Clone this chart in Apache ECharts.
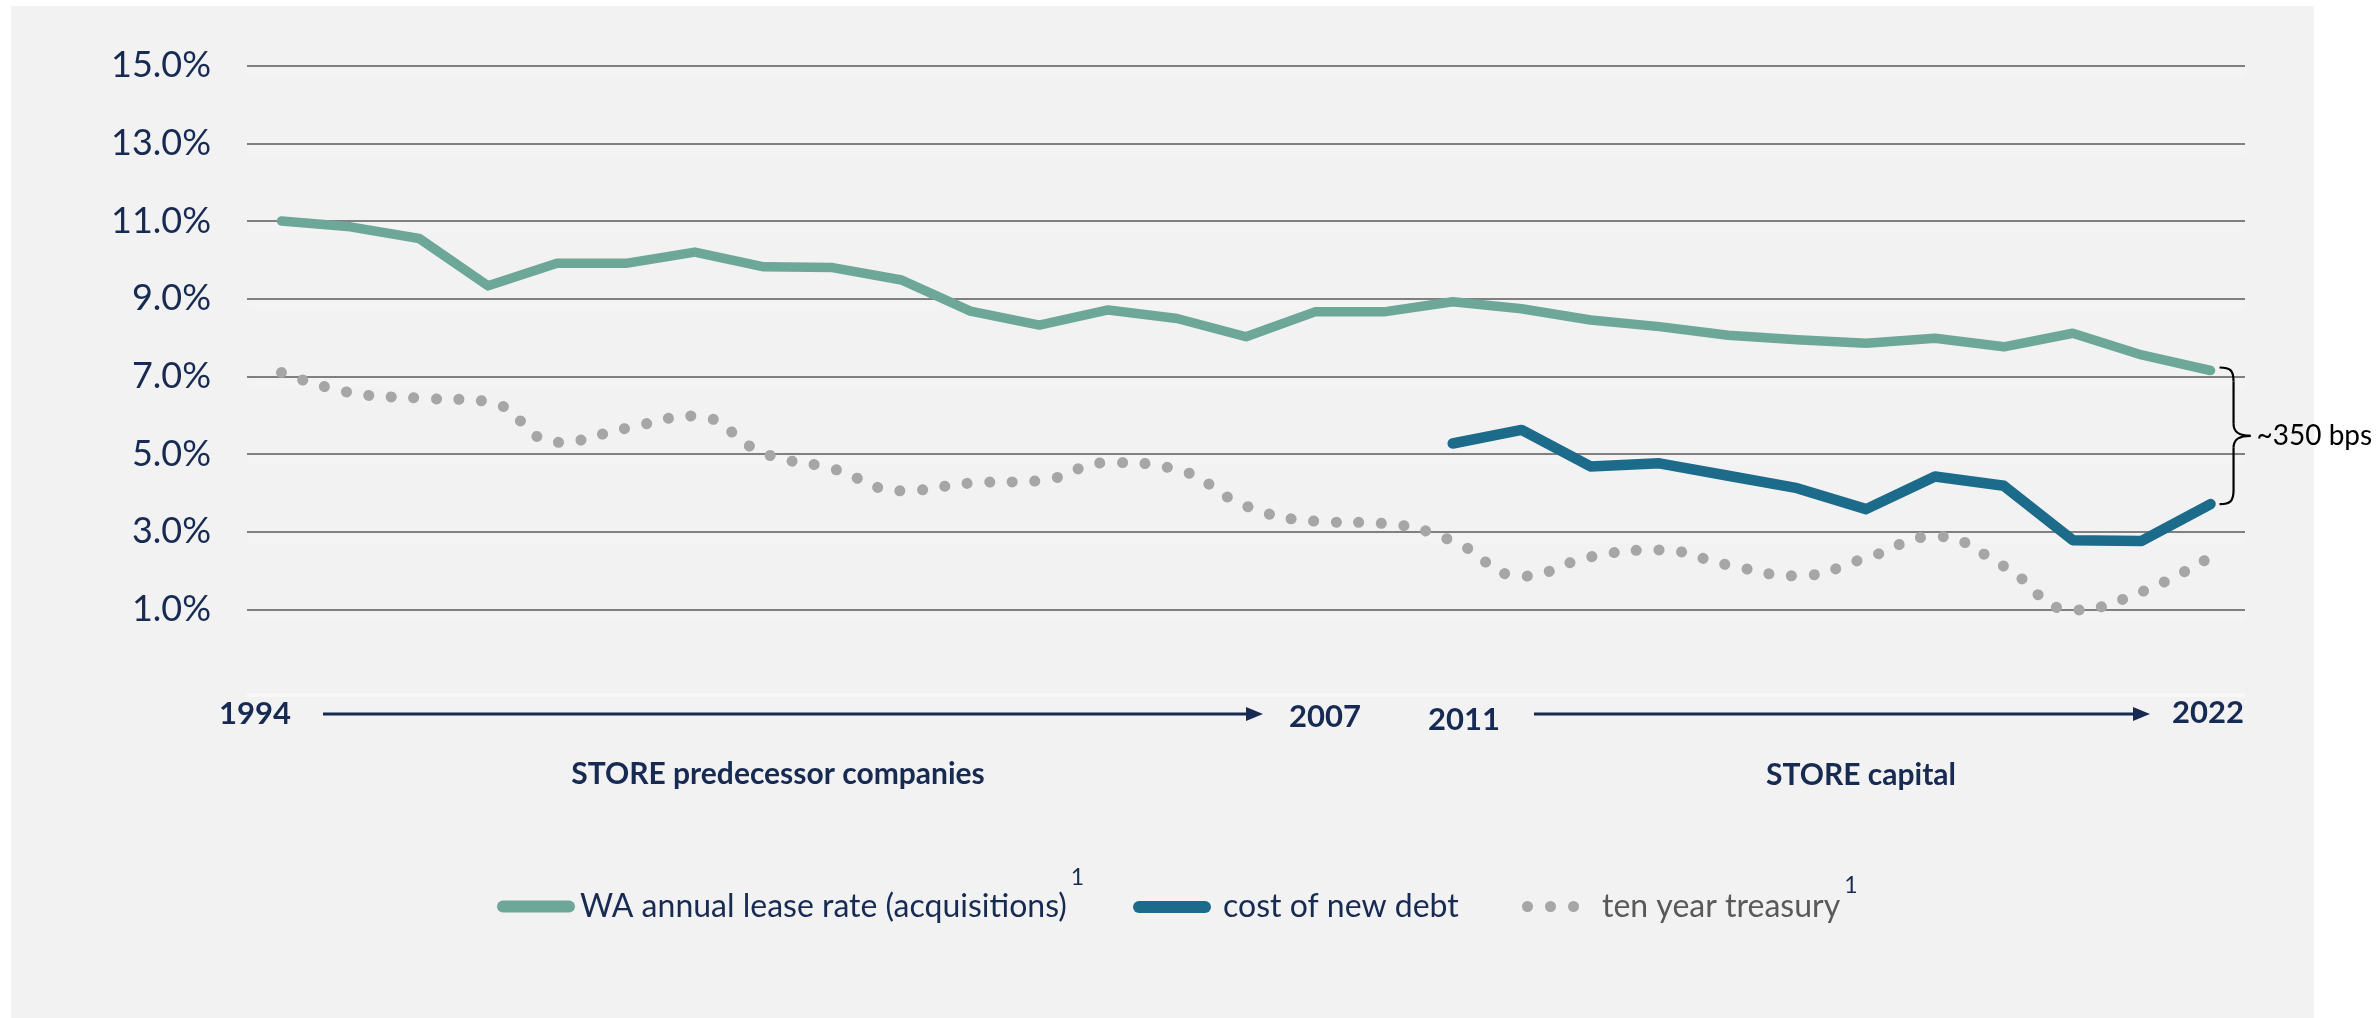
<!DOCTYPE html>
<html><head><meta charset="utf-8">
<script src="https://cdn.jsdelivr.net/npm/echarts@6/dist/echarts.min.js"></script>
<style>
html,body{margin:0;padding:0;background:#fff;width:2379px;height:1018px;overflow:hidden;}
#panel{position:absolute;left:11px;top:6px;width:2303px;height:1012px;background:#f2f2f2;}
#chart{position:absolute;left:0;top:0;width:2379px;height:1018px;}
</style></head><body>
<div id="panel"></div><div id="chart"></div>
<script>
// ---- data ----
const years = ['1994','1995','1996','1997','1998','1999','2000','2001','2002','2003','2004','2005','2006','2007','2008','2009','2010','2011','2012','2013','2014','2015','2016','2017','2018','2019','2020','2021','2022'];
const leaseRate = [11.0, 10.85, 10.55, 9.33, 9.91, 9.91, 10.2, 9.82, 9.80, 9.48, 8.68, 8.32, 8.71, 8.49, 8.02, 8.66, 8.66, 8.92, 8.74, 8.45, 8.28, 8.06, 7.94, 7.85, 7.98, 7.76, 8.11, 7.55, 7.15];
const costOfDebt = [null, null, null, null, null, null, null, null, null, null, null, null, null, null, null, null, null, 5.27, 5.62, 4.68, 4.76, 4.44, 4.12, 3.58, 4.42, 4.18, 2.78, 2.76, 3.71];
const treasury = [7.10, 6.58, 6.44, 6.35, 5.30, 5.66, 5.98, 5.02, 4.62, 4.05, 4.25, 4.31, 4.78, 4.60, 3.66, 3.27, 3.21, 2.76, 1.85, 2.35, 2.53, 2.14, 1.86, 2.32, 2.88, 2.11, 0.98, 1.45, 2.35];
const seriesNames = ['WA annual lease rate (acquisitions)', 'cost of new debt', 'ten year treasury'];
const yTicks = {min: 1, max: 15, interval: 2};
const timelineYears = ['1994', '2007', '2011', '2022'];
const periodLabels = ['STORE predecessor companies', 'STORE capital'];
const spreadLabel = '~350 bps';

// ---- style ----
const NAVY = '#172a52';
const LEASE = '#6da798';
const DEBT = '#1c6b8b';
const TSY = '#a6a6a6';
const FONT = 'Lato';

const chart = echarts.init(document.getElementById('chart'), null, {renderer: 'canvas'});

const capsule = 'path://M6,0 H72 A6,6 0 0 1 72,12 H6 A6,6 0 0 1 6,0 Z';
const threeDots = 'path://M5.5,0 A5.5,5.5 0 1 1 5.5,11 A5.5,5.5 0 1 1 5.5,0 Z M28.5,0 A5.5,5.5 0 1 1 28.5,11 A5.5,5.5 0 1 1 28.5,0 Z M51.5,0 A5.5,5.5 0 1 1 51.5,11 A5.5,5.5 0 1 1 51.5,0 Z';

function legendText(color, supPad, leftPad) {
  return {
    fontFamily: FONT, fontSize: 32, color: color, padding: [0, 0, 0, leftPad],
    rich: {
      a: {fontFamily: FONT, fontSize: 32, color: color, lineHeight: 40},
      s: {fontFamily: FONT, fontSize: 23, color: NAVY, lineHeight: 24, padding: [0, 0, supPad, 4]}
    }
  };
}

const option = {
  backgroundColor: 'transparent',
  animation: false,
  grid: {left: 247, right: 134, top: 65.7, bottom: 408.7, containLabel: false},
  xAxis: {
    type: 'category', data: years, boundaryGap: true,
    axisLine: {show: false}, axisTick: {show: false}, axisLabel: {show: false}, splitLine: {show: false}
  },
  yAxis: {
    type: 'value', min: yTicks.min, max: yTicks.max, interval: yTicks.interval,
    axisLine: {show: false}, axisTick: {show: false},
    axisLabel: {formatter: v => v.toFixed(1) + '%', fontFamily: FONT, fontSize: 36, color: NAVY, margin: 36},
    splitLine: {lineStyle: {color: '#808080', width: 2.2, shadowColor: 'rgba(255,255,255,0.9)', shadowBlur: 6, shadowOffsetY: 7}}
  },
  legend: [
    {data: [{name: seriesNames[0], icon: capsule, itemStyle: {color: LEASE, borderWidth: 0}}],
     left: 497, top: 866, padding: 0, itemWidth: 78, itemHeight: 12,
     formatter: n => '{a|' + n + '}{s|1}', textStyle: legendText(NAVY, 58, 0)},
    {data: [{name: seriesNames[1], icon: capsule, itemStyle: {color: DEBT, borderWidth: 0}}],
     left: 1133, top: 891, padding: 0, itemWidth: 78, itemHeight: 12,
     formatter: n => '{a|' + n + '}', textStyle: legendText(NAVY, 0, 7)},
    {data: [{name: seriesNames[2], icon: threeDots, itemStyle: {color: TSY, borderWidth: 0}}],
     left: 1522, top: 874, padding: 0, itemWidth: 57, itemHeight: 11,
     formatter: n => '{a|' + n + '}{s|1}', textStyle: legendText('#595959', 42, 18)}
  ],
  series: [
    {name: seriesNames[2], type: 'line', data: treasury, smooth: 0.45, showSymbol: false, symbol: 'none', clip: false, z: 2,
     lineStyle: {color: TSY, width: 11, type: [0.1, 22.5], cap: 'round'}, itemStyle: {color: TSY}},
    {name: seriesNames[0], type: 'line', data: leaseRate, showSymbol: false, symbol: 'none', clip: false, z: 3,
     lineStyle: {color: LEASE, width: 9.5, cap: 'round', join: 'round'}, itemStyle: {color: LEASE}},
    {name: seriesNames[1], type: 'line', data: costOfDebt, showSymbol: false, symbol: 'none', clip: false, z: 4, connectNulls: false,
     lineStyle: {color: DEBT, width: 10.5, cap: 'round', join: 'round'}, itemStyle: {color: DEBT}}
  ]
};
chart.setOption(option);

// ---- annotations ----
function txt(text, x, y, size, weight, color, align) {
  return {type: 'text', silent: true, z: 10, style: {
    text: text, x: x, y: y, fontFamily: FONT, fontSize: size, fontWeight: weight, fill: color,
    align: align || 'left', textAlign: align || 'left', verticalAlign: 'middle', textVerticalAlign: 'middle'}};
}
const g = [];
// faint axis band
g.push({type: 'rect', silent: true, z: 1, shape: {x: 247, y: 693, width: 1998, height: 4}, style: {fill: '#f8f8f8'}});
// timeline arrows
g.push({type: 'line', silent: true, z: 10, shape: {x1: 323, y1: 714, x2: 1250, y2: 714}, style: {stroke: NAVY, lineWidth: 3}});
g.push({type: 'polygon', silent: true, z: 10, shape: {points: [[1246, 707], [1263, 714], [1246, 721]]}, style: {fill: NAVY}});
g.push({type: 'line', silent: true, z: 10, shape: {x1: 1534, y1: 714, x2: 2137, y2: 714}, style: {stroke: NAVY, lineWidth: 3}});
g.push({type: 'polygon', silent: true, z: 10, shape: {points: [[2133, 707], [2150, 714], [2133, 721]]}, style: {fill: NAVY}});
g.push(txt(timelineYears[0], 219, 714, 31, 'bold', NAVY));
g.push(txt(timelineYears[1], 1289, 717, 31, 'bold', NAVY));
g.push(txt(timelineYears[2], 1428, 720, 31, 'bold', NAVY));
g.push(txt(timelineYears[3], 2172, 713, 31, 'bold', NAVY));
g.push(txt(periodLabels[0], 778, 774, 30, 'bold', NAVY, 'center'));
g.push(txt(periodLabels[1], 1861, 775, 30, 'bold', NAVY, 'center'));

// spread brace between last lease rate and last debt cost
const last = years.length - 1;
const pTop = chart.convertToPixel({gridIndex: 0}, [last, leaseRate[last]]);
const pBot = chart.convertToPixel({gridIndex: 0}, [last, costOfDebt[last]]);
const x0 = pTop[0] + 9, xs = x0 + 14, xt = x0 + 31;
const yt = pTop[1] - 3, yb = pBot[1], ym = (yt + yb) / 2;
const bs = {stroke: '#000', lineWidth: 2.2, fill: null};
g.push({type: 'bezierCurve', silent: true, z: 10, shape: {x1: x0, y1: yt, cpx1: x0 + 11, cpy1: yt, cpx2: xs, cpy2: yt + 3, x2: xs, y2: yt + 14}, style: bs});
g.push({type: 'line', silent: true, z: 10, shape: {x1: xs, y1: yt + 14, x2: xs, y2: ym - 12}, style: bs});
g.push({type: 'bezierCurve', silent: true, z: 10, shape: {x1: xs, y1: ym - 12, cpx1: xs, cpy1: ym - 3, cpx2: xs + 6, cpy2: ym, x2: xt, y2: ym}, style: bs});
g.push({type: 'bezierCurve', silent: true, z: 10, shape: {x1: xt, y1: ym, cpx1: xs + 6, cpy1: ym, cpx2: xs, cpy2: ym + 3, x2: xs, y2: ym + 12}, style: bs});
g.push({type: 'line', silent: true, z: 10, shape: {x1: xs, y1: ym + 12, x2: xs, y2: yb - 14}, style: bs});
g.push({type: 'bezierCurve', silent: true, z: 10, shape: {x1: xs, y1: yb - 14, cpx1: xs, cpy1: yb - 3, cpx2: x0 + 11, cpy2: yb, x2: x0, y2: yb}, style: bs});
g.push(txt(spreadLabel, xt + 6, ym, 28, 'normal', '#000'));

chart.setOption({graphic: g});
</script>
</body></html>
